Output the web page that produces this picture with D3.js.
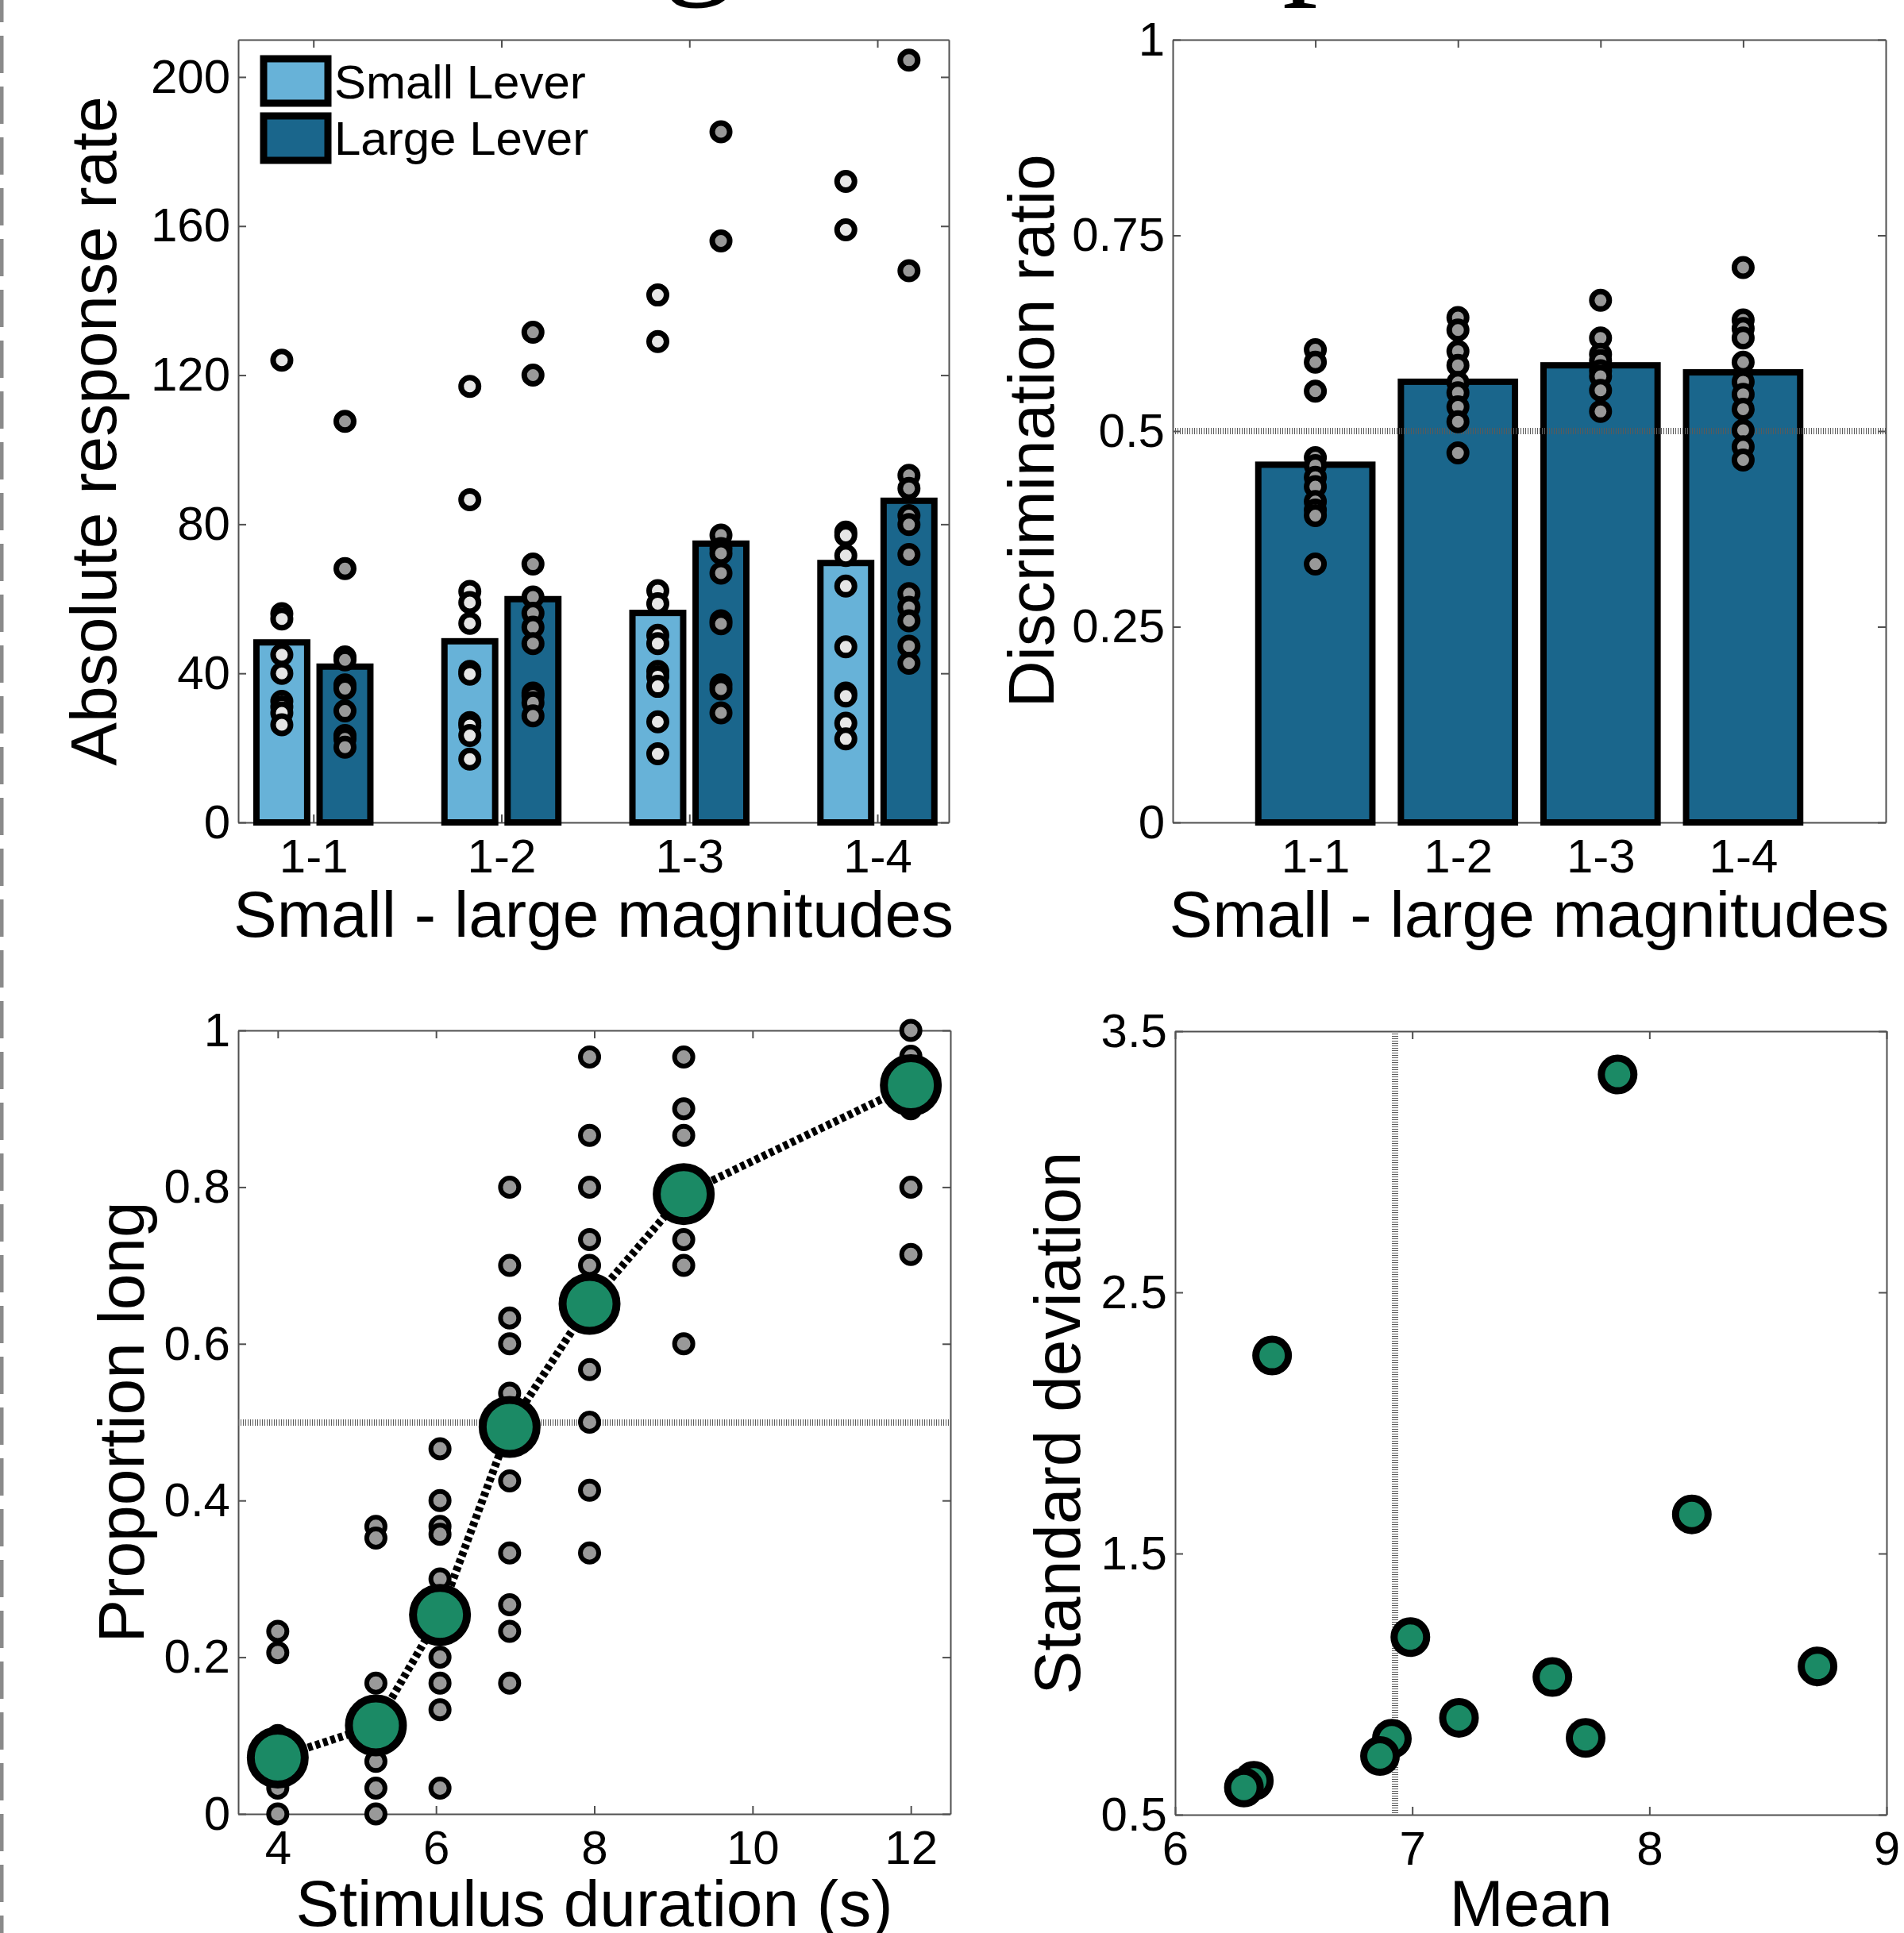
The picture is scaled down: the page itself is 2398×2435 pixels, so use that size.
<!DOCTYPE html>
<html>
<head>
<meta charset="utf-8">
<script src="https://cdn.jsdelivr.net/npm/d3@7"></script>
<style>
  html, body { margin: 0; padding: 0; background: #fff; }
  svg { display: block; }
  .tick text { font-family: 'Liberation Sans', Arial, sans-serif; font-size: 60px; fill: #000; }
  .axis-title, .legend-text { font-family: 'Liberation Sans', Arial, sans-serif; fill: #000; }
  .axis-title { font-size: 82px; }
  .legend-text { font-size: 60px; }
</style>
</head>
<body>
<svg id="chart" width="2398" height="2435"></svg>
<script>
// --- data ---
var figureTitle = 'Magnitude Experiment';

var magnitudes = ['1-1', '1-2', '1-3', '1-4'];
var smallLeverMean = [48.3, 48.6, 56.2, 69.6];
var largeLeverMean = [41.8, 59.9, 74.8, 86.3];
var smallLeverRats = [
  [124, 56, 54.6, 45, 40, 32.5, 31, 29.4, 26.2],
  [117, 86.6, 62, 59, 53.4, 40.5, 39.8, 26.8, 26, 23.3, 17],
  [141.5, 129, 62.2, 58.7, 50.2, 48, 40.5, 39.1, 36.5, 27, 18.4],
  [172, 159, 77.9, 77, 71.6, 63.4, 47.1, 34.7, 33.9, 26.6, 22.4]
];
var largeLeverRats = [
  [107.6, 68.1, 44.4, 43.6, 36.9, 35.9, 29.9, 23.3, 22.4, 20.2],
  [131.5, 120, 69.3, 60.5, 56.1, 52.4, 48, 34.7, 33.9, 32.1, 28.6],
  [185.3, 156, 77.1, 73.5, 72.2, 66.9, 54.1, 53.3, 36.9, 35.8, 29.4],
  [204.5, 148, 93.1, 89.6, 82.3, 79.9, 71.9, 61.4, 57.7, 54.1, 47.3, 42.7]
];

var discrimMean = [0.457, 0.563, 0.584, 0.575];
var discrimRats = [
  [0.604, 0.588, 0.551, 0.466, 0.456, 0.441, 0.429, 0.41, 0.399, 0.392, 0.33],
  [0.645, 0.629, 0.602, 0.584, 0.562, 0.549, 0.531, 0.512, 0.472],
  [0.667, 0.619, 0.598, 0.59, 0.577, 0.57, 0.552, 0.525],
  [0.709, 0.642, 0.631, 0.619, 0.588, 0.563, 0.547, 0.528, 0.501, 0.48, 0.463]
];

var durations = [4, 5.24, 6.05, 6.93, 7.94, 9.13, 12];
var propLongMean = [0.072, 0.113, 0.254, 0.494, 0.651, 0.791, 0.93];
var propLongRats = [
  [0.233, 0.206, 0.1, 0.033, 0],
  [0.367, 0.352, 0.167, 0.067, 0.033, 0],
  [0.466, 0.4, 0.367, 0.357, 0.3, 0.2, 0.167, 0.133, 0.033],
  [0.8, 0.7, 0.633, 0.6, 0.537, 0.425, 0.333, 0.267, 0.233, 0.167],
  [0.966, 0.866, 0.8, 0.733, 0.7, 0.567, 0.5, 0.413, 0.333],
  [0.966, 0.9, 0.866, 0.8, 0.733, 0.7, 0.6],
  [1, 0.967, 0.9, 0.8, 0.714]
];

var ratMeans = [7.866, 6.409, 8.179, 6.992, 7.591, 8.709, 7.197, 7.731, 6.914, 6.864, 6.332, 6.29];
var ratSDs = [3.334, 2.258, 1.65, 1.18, 1.027, 1.068, 0.871, 0.794, 0.791, 0.725, 0.63, 0.604];
var bisection = 6.928;

var legendLabels = ['Small Lever', 'Large Lever'];

// --- style ---
var colors = {
  small: '#67b2d8',
  large: '#1a668c',
  green: '#1b8a65',
  dotLight: '#e6e6e6',
  dotGray: '#999999',
  axis: '#505050',
  ref: '#5a5a5a'
};

var svg = d3.select('#chart');
svg.append('rect').attr('width', 2398).attr('height', 2435).attr('fill', '#fff');

function drawFrame(x, y, xTicks, yTicks, xFormat, yFormat) {
  var x0 = x.range()[0], x1 = x.range()[1],
    yb = y.range()[0], yt = y.range()[1];
  var g = svg.append('g').attr('class', 'frame');

  g.append('g').attr('transform', 'translate(0,' + yb + ')')
    .call(d3.axisBottom(x).tickValues(xTicks).tickSize(-10).tickSizeOuter(0)
      .tickPadding(20).tickFormat(xFormat));
  g.append('g').attr('transform', 'translate(0,' + yt + ')')
    .call(d3.axisTop(x).tickValues(xTicks).tickSize(-10).tickSizeOuter(0).tickFormat(''));
  g.append('g').attr('transform', 'translate(' + x0 + ',0)')
    .call(d3.axisLeft(y).tickValues(yTicks).tickSize(-10).tickSizeOuter(0)
      .tickPadding(10).tickFormat(yFormat));
  g.append('g').attr('transform', 'translate(' + x1 + ',0)')
    .call(d3.axisRight(y).tickValues(yTicks).tickSize(-10).tickSizeOuter(0).tickFormat(''));

  g.selectAll('.domain, .tick line')
    .attr('stroke', colors.axis)
    .attr('stroke-width', 2);
  return g;
}

function axisTitles(x, y, xTitle, yTitle, xBase, yBase) {
  var mx = (x.range()[0] + x.range()[1]) / 2,
    my = (y.range()[0] + y.range()[1]) / 2;
  svg.append('text').attr('class', 'axis-title')
    .attr('text-anchor', 'middle')
    .attr('x', mx).attr('y', xBase)
    .text(xTitle);
  svg.append('text').attr('class', 'axis-title')
    .attr('text-anchor', 'middle')
    .attr('transform', 'translate(' + yBase + ',' + my + ') rotate(-90)')
    .text(yTitle);
}

// dotted grey reference line, drawn as fine hatching like the original
function refLine(x1, y1, x2, y2) {
  svg.append('line')
    .attr('x1', x1).attr('y1', y1).attr('x2', x2).attr('y2', y2)
    .attr('stroke', colors.ref)
    .attr('stroke-width', 8)
    .attr('stroke-dasharray', '1,2')
    .attr('shape-rendering', 'crispEdges');
}

function dots(g, cx, values, y, fill, r, sw) {
  g.selectAll(null)
    .data(values)
    .enter().append('circle')
    .attr('cx', cx)
    .attr('cy', function (d) { return y(d); })
    .attr('r', r)
    .attr('fill', fill)
    .attr('stroke', '#000')
    .attr('stroke-width', sw);
}

// left margin dashed border
svg.append('line')
  .attr('x1', 2).attr('x2', 2).attr('y1', 0).attr('y2', 2435)
  .attr('stroke', '#8a8a8a').attr('stroke-width', 5)
  .attr('stroke-dasharray', '47,17').attr('stroke-dashoffset', 19);

// title, mostly above the page: only the descenders show
(function drawTitle() {
  var t = svg.append('text')
    .attr('font-family', "'Liberation Serif', 'Times New Roman', serif")
    .attr('font-size', 100).attr('x', 0).attr('y', 500)
    .text(figureTitle);
  var node = t.node();
  var eg = node.getExtentOfChar(figureTitle.indexOf('g')),
    ep = node.getExtentOfChar(figureTitle.indexOf('p'));
  var gx = eg.x + eg.width / 2, px = ep.x + ep.width * 0.28;
  var fs = 100 * (1640 - 880) / (px - gx);
  var k = fs / 100;
  t.attr('font-size', fs)
    .attr('x', 880 - gx * k)
    .attr('y', 11 - 0.218 * fs);
})();

// ---------- A: absolute response rate ----------
(function panelA() {
  var x = d3.scaleLinear().domain([0.6, 4.38]).range([300, 1195]);
  var y = d3.scaleLinear().domain([0, 210]).range([1036, 50]);
  var barW = 0.27, off = 0.168;

  drawFrame(x, y, [1, 2, 3, 4], [0, 40, 80, 120, 160, 200],
    function (d) { return magnitudes[d - 1]; }, d3.format('d'));

  var g = svg.append('g');
  var series = [
    { means: smallLeverMean, rats: smallLeverRats, fill: colors.small, dot: colors.dotLight, dx: -off },
    { means: largeLeverMean, rats: largeLeverRats, fill: colors.large, dot: colors.dotGray, dx: off }
  ];
  series.forEach(function (s) {
    g.selectAll(null).data(s.means).enter().append('rect')
      .attr('x', function (d, i) { return x(i + 1 + s.dx - barW / 2); })
      .attr('width', x(barW) - x(0))
      .attr('y', function (d) { return y(d); })
      .attr('height', function (d) { return y(0) - y(d); })
      .attr('fill', s.fill)
      .attr('stroke', '#000')
      .attr('stroke-width', 8);
  });
  series.forEach(function (s) {
    s.rats.forEach(function (vals, i) {
      dots(g, x(i + 1 + s.dx), vals, y, s.dot, 11, 7);
    });
  });

  // legend
  var lg = svg.append('g');
  [colors.small, colors.large].forEach(function (c, i) {
    lg.append('rect')
      .attr('x', 332).attr('y', 74 + i * 72)
      .attr('width', 81).attr('height', 56)
      .attr('fill', c).attr('stroke', '#000').attr('stroke-width', 9);
    lg.append('text').attr('class', 'legend-text')
      .attr('x', 421).attr('y', 124 + i * 71)
      .text(legendLabels[i]);
  });

  axisTitles(x, y, 'Small - large magnitudes', 'Absolute response rate', 1180, 146);
})();

// ---------- B: discrimination ratio ----------
(function panelB() {
  var x = d3.scaleLinear().domain([0, 5]).range([1477, 2375]);
  var y = d3.scaleLinear().domain([0, 1]).range([1036, 50]);
  var barW = 0.8;

  drawFrame(x, y, [1, 2, 3, 4], [0, 0.25, 0.5, 0.75, 1],
    function (d) { return magnitudes[d - 1]; }, function (d) { return String(d); });

  var g = svg.append('g');
  g.selectAll(null).data(discrimMean).enter().append('rect')
    .attr('x', function (d, i) { return x(i + 1 - barW / 2); })
    .attr('width', x(barW) - x(0))
    .attr('y', function (d) { return y(d); })
    .attr('height', function (d) { return y(0) - y(d); })
    .attr('fill', colors.large)
    .attr('stroke', '#000')
    .attr('stroke-width', 8);

  refLine(x(0), y(0.5), x(5), y(0.5));

  var g2 = svg.append('g');
  discrimRats.forEach(function (vals, i) {
    dots(g2, x(i + 1), vals, y, colors.dotGray, 11, 7);
  });

  axisTitles(x, y, 'Small - large magnitudes', 'Discrimination ratio', 1180, 1327);
})();

// ---------- C: psychometric function ----------
(function panelC() {
  var x = d3.scaleLinear().domain([3.5, 12.5]).range([300, 1197]);
  var y = d3.scaleLinear().domain([0, 1]).range([2285, 1298]);

  drawFrame(x, y, [4, 6, 8, 10, 12], [0, 0.2, 0.4, 0.6, 0.8, 1],
    function (d) { return String(d); }, function (d) { return String(d); });

  refLine(x(3.5), y(0.5), x(12.5), y(0.5));

  var g = svg.append('g');
  propLongRats.forEach(function (vals, i) {
    dots(g, x(durations[i]), vals, y, colors.dotGray, 11.5, 6);
  });

  var line = d3.line()
    .x(function (d, i) { return x(durations[i]); })
    .y(function (d) { return y(d); });
  svg.append('path')
    .attr('d', line(propLongMean))
    .attr('fill', 'none')
    .attr('stroke', '#000')
    .attr('stroke-width', 10)
    .attr('stroke-dasharray', '6,4');

  svg.append('g').selectAll('circle')
    .data(propLongMean).enter().append('circle')
    .attr('cx', function (d, i) { return x(durations[i]); })
    .attr('cy', function (d) { return y(d); })
    .attr('r', 34)
    .attr('fill', colors.green)
    .attr('stroke', '#000')
    .attr('stroke-width', 10);

  axisTitles(x, y, 'Stimulus duration (s)', 'Proportion long', 2426, 181);
})();

// ---------- D: mean vs standard deviation ----------
(function panelD() {
  var x = d3.scaleLinear().domain([6, 9]).range([1480, 2376]);
  var y = d3.scaleLinear().domain([0.5, 3.5]).range([2286, 1299]);

  drawFrame(x, y, [6, 7, 8, 9], [0.5, 1.5, 2.5, 3.5],
    function (d) { return String(d); }, function (d) { return String(d); });

  refLine(x(bisection), y(3.5), x(bisection), y(0.5));

  svg.append('g').selectAll('circle')
    .data(ratMeans).enter().append('circle')
    .attr('cx', function (d) { return x(d); })
    .attr('cy', function (d, i) { return y(ratSDs[i]); })
    .attr('r', 20.5)
    .attr('fill', colors.green)
    .attr('stroke', '#000')
    .attr('stroke-width', 9);

  axisTitles(x, y, 'Mean', 'Standard deviation', 2426, 1360);
})();
</script>
</body>
</html>
